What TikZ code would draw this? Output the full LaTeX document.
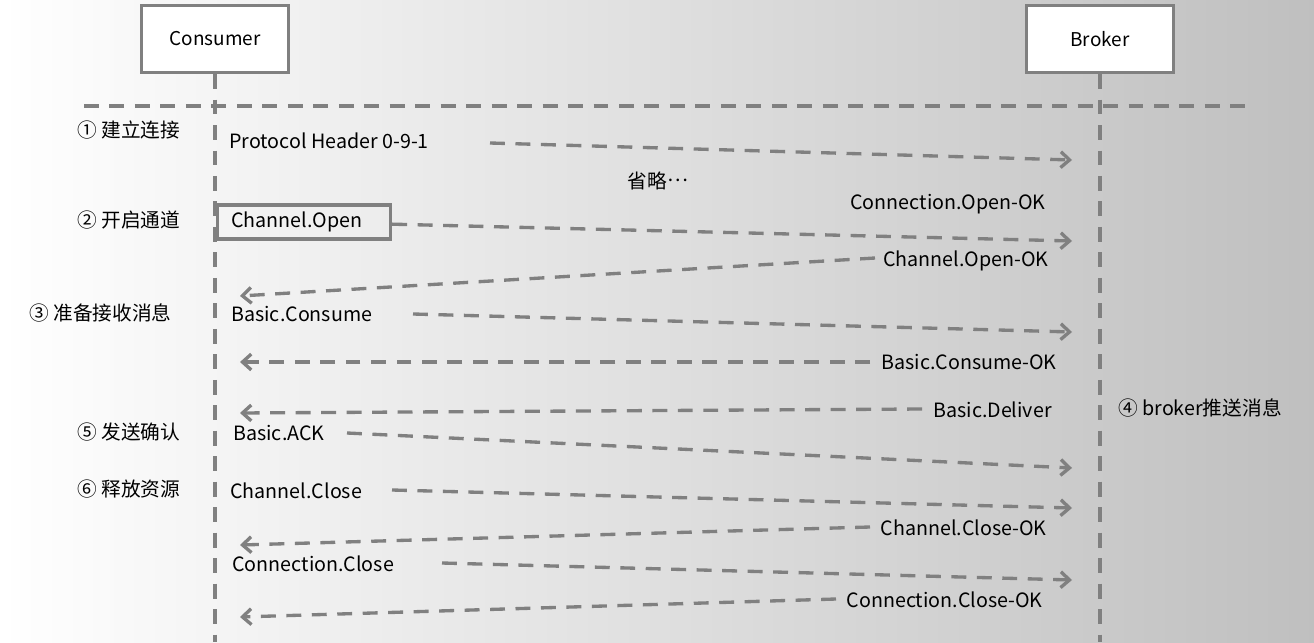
\documentclass[tikz,border=0pt]{standalone}
\usepackage{fontspec}
\setmainfont{Noto Sans CJK SC}
\usepackage{xcolor}
\usetikzlibrary{positioning}
\usetikzlibrary{arrows.meta}

\definecolor{linegray}{RGB}{128,128,128}

\begin{document}
\begin{tikzpicture}[x=0.02cm,y=-0.02cm]
    \tikzset{Actor/.style={rectangle, draw=linegray, line width=1.8pt, fill=white, minimum width=2.94cm, minimum height=1.34cm, font=\fontsize{10.8}{13}\selectfont}};
    \tikzset{Life/.style={draw=linegray, line width=1.9pt, dash pattern=on 8.5pt off 6pt}};
    \tikzset{Msg/.style={Life, -{Straight Barb[length=5pt,width=9pt]}}};
    \tikzset{Txt/.style={inner sep=0pt, font=\fontsize{11.2}{13}\selectfont}};
    % background
    \shade[left color=white, right color=gray!50] (0,0) rectangle (1314,642);
    \useasboundingbox (0,0) rectangle (1314,642);

    % participants and lifelines
    \node[Actor] (consumer) at (215,39) {Consumer};
    \node[Actor] (broker) at (1100,39) {Broker};
    \coordinate (cEnd) at (215,642);
    \coordinate (bEnd) at (1100,642);
    \draw[Life] (consumer) -- (cEnd);
    \draw[Life] (broker) -- (bEnd);
    \coordinate (sepL) at (84,106);
    \coordinate (sepR) at (1247,106);
    \draw[Life] (sepL) -- (sepR);

    % steps
    \node[Txt, anchor=base west] (s1) at (77,137) {① 建立连接};
    \node[Txt, anchor=base west] (s2) at (77,227) {② 开启通道};
    \node[Txt, anchor=base west] (s3) at (29,320) {③ 准备接收消息};
    \node[Txt, anchor=base west] (s4) at (1118,415) {④ broker推送消息};
    \node[Txt, anchor=base west] (s5) at (77,439) {⑤ 发送确认};
    \node[Txt, anchor=base west] (s6) at (77,496) {⑥ 释放资源};

    % messages
    \node[Txt, anchor=base west] (ph) at (229,148) {Protocol Header 0-9-1};
    \coordinate (phS) at (490,143);
    \coordinate (phE) at (1072,160);
    \draw[Msg] (phS) -- (phE);

    \node[Txt, anchor=base] (skip) at (658,188) {省略\raisebox{0.32em}{…}};
    \node[Txt, anchor=base east] (coOK) at (1046,209) {Connection.Open-OK};

    \node[Txt, draw=linegray, line width=1.8pt, anchor=west, text width=2.92cm, align=left, inner xsep=0.27cm, minimum height=0.68cm] (chOpen) at (216,222) {Channel.Open};
    \coordinate (chOpenE) at (1072,241);
    \draw[Msg] (chOpen) -- (chOpenE);

    \node[Txt, anchor=base east] (chOK) at (1049,266) {Channel.Open-OK};
    \coordinate (chOKS) at (875,258);
    \coordinate (chOKE) at (240,296);
    \draw[Msg] (chOKS) -- (chOKE);

    \node[Txt, anchor=base west] (bc) at (231,321) {Basic.Consume};
    \coordinate (bcS) at (413,314);
    \coordinate (bcE) at (1072,332);
    \draw[Msg] (bcS) -- (bcE);

    \node[Txt, anchor=base east] (bcOK) at (1057,369) {Basic.Consume-OK};
    \coordinate (bcOKS) at (870,362);
    \coordinate (bcOKE) at (240,362);
    \draw[Msg] (bcOKS) -- (bcOKE);

    \node[Txt, anchor=base east] (dlv) at (1052,417) {Basic.Deliver};
    \coordinate (dlvS) at (922,409);
    \coordinate (dlvE) at (240,413);
    \draw[Msg] (dlvS) -- (dlvE);

    \node[Txt, anchor=base west] (ack) at (233,440) {Basic.ACK};
    \coordinate (ackS) at (347,433);
    \coordinate (ackE) at (1072,468);
    \draw[Msg] (ackS) -- (ackE);

    \node[Txt, anchor=base west] (cc) at (230,498) {Channel.Close};
    \coordinate (ccS) at (392,490);
    \coordinate (ccE) at (1072,508);
    \draw[Msg] (ccS) -- (ccE);

    \node[Txt, anchor=base east] (ccOK) at (1047,535) {Channel.Close-OK};
    \coordinate (ccOKS) at (870,527);
    \coordinate (ccOKE) at (240,545);
    \draw[Msg] (ccOKS) -- (ccOKE);

    \node[Txt, anchor=base west] (cnc) at (232,571) {Connection.Close};
    \coordinate (cncS) at (442,563);
    \coordinate (cncE) at (1072,580);
    \draw[Msg] (cncS) -- (cncE);

    \node[Txt, anchor=base east] (cncOK) at (1043,607) {Connection.Close-OK};
    \coordinate (cncOKS) at (836,599);
    \coordinate (cncOKE) at (240,617);
    \draw[Msg] (cncOKS) -- (cncOKE);
\end{tikzpicture}
\end{document}
